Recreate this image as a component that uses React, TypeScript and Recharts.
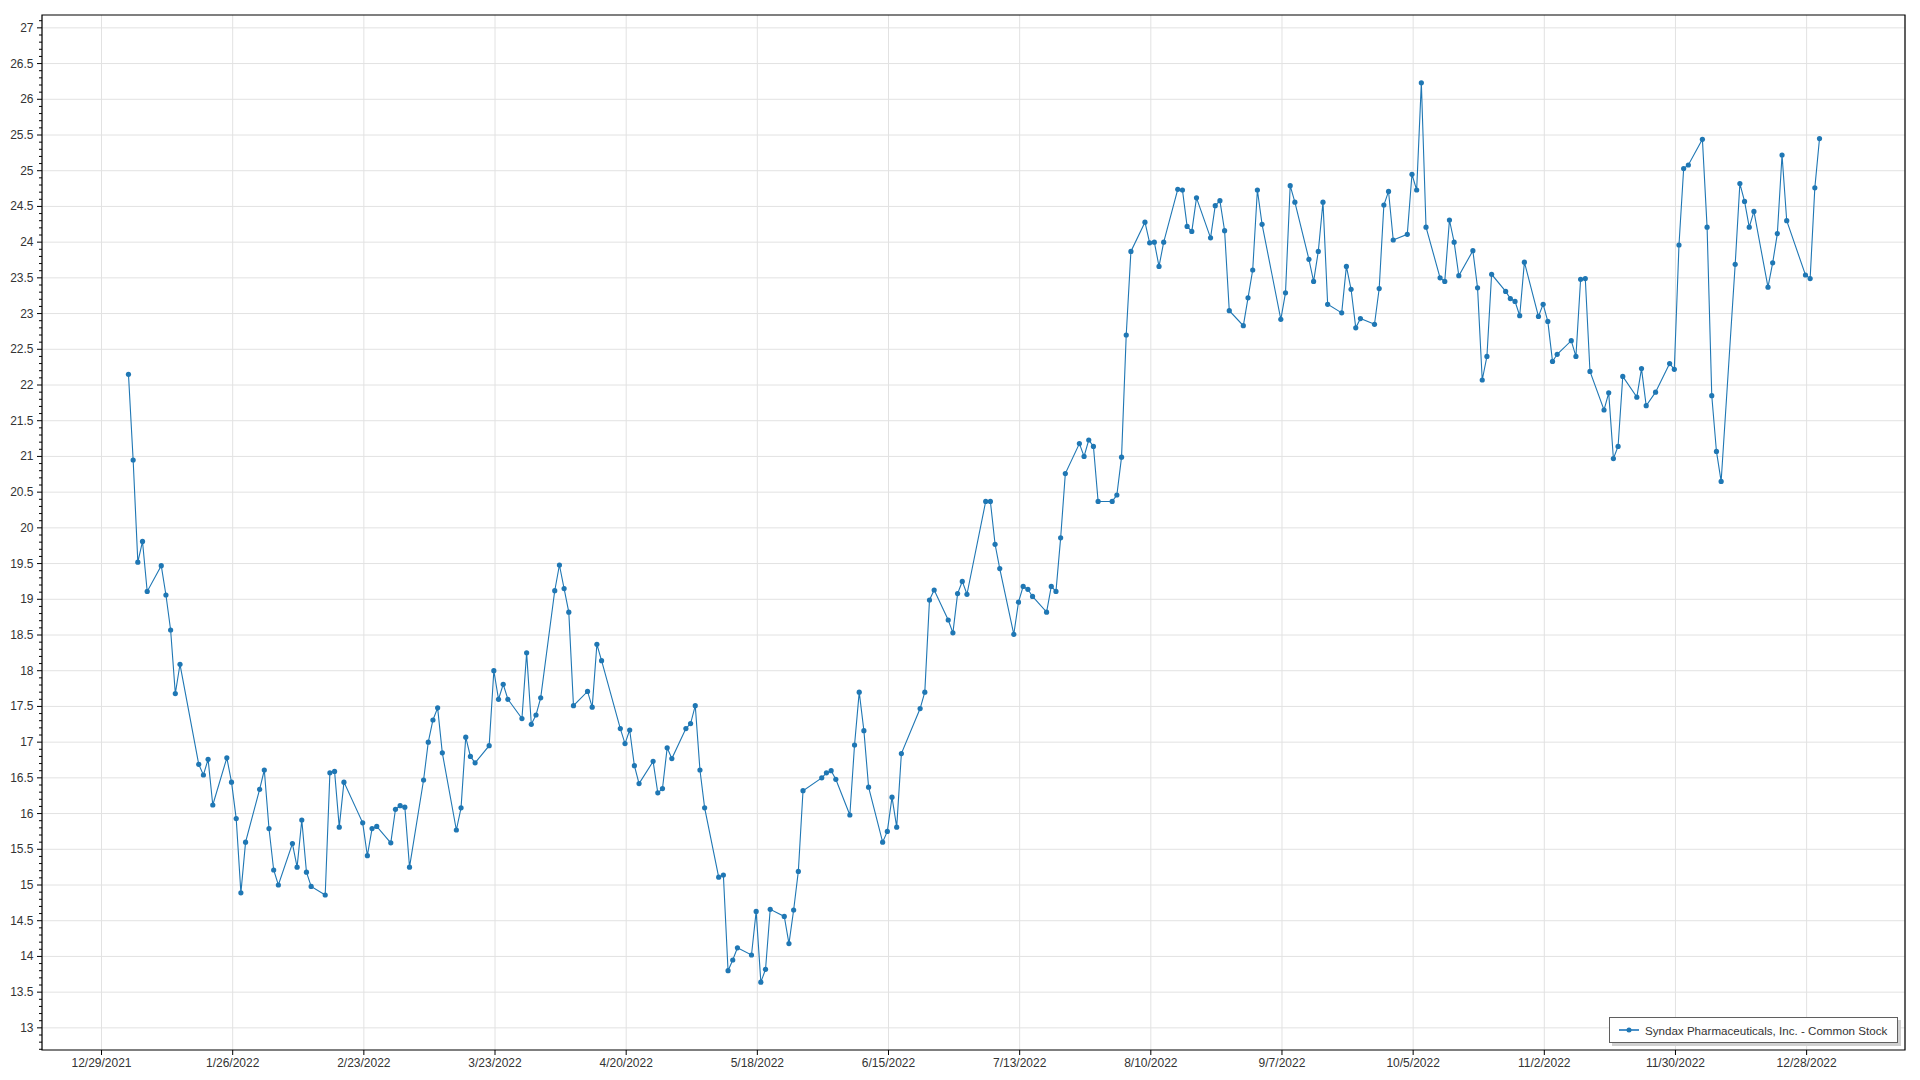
import React from 'react';
import { LineChart, Line, XAxis, YAxis, CartesianGrid, Legend, ReferenceArea } from 'recharts';

// trading days (day of month) and closing prices, 2022
const janDays = [3, 4, 5, 6, 7, 10, 11, 12, 13, 14, 18, 19, 20, 21, 24, 25, 26, 27, 28, 31];
const janClose = [22.15, 20.95, 19.52, 19.81, 19.11, 19.47, 19.06, 18.57, 17.68, 18.09, 16.69, 16.54, 16.76, 16.12, 16.78, 16.44, 15.93, 14.89, 15.6, 16.34];
const febDays = [1, 2, 3, 4, 7, 8, 9, 10, 11, 14, 15, 16, 17, 18, 22, 23, 24, 25, 28];
const febClose = [16.61, 15.79, 15.21, 15.0, 15.58, 15.25, 15.91, 15.18, 14.98, 14.86, 16.57, 16.59, 15.81, 16.44, 15.87, 15.41, 15.79, 15.82, 15.59];
const marDays = [1, 2, 3, 4, 7, 8, 9, 10, 11, 14, 15, 16, 17, 18, 21, 22, 23, 24, 25, 28, 29, 30, 31];
const marClose = [16.06, 16.11, 16.09, 15.25, 16.47, 17.0, 17.31, 17.48, 16.85, 15.77, 16.08, 17.07, 16.8, 16.71, 16.95, 18.0, 17.6, 17.81, 17.6, 17.33, 18.25, 17.25, 17.38];
const aprDays = [1, 4, 5, 6, 7, 8, 11, 12, 13, 14, 18, 19, 20, 21, 22, 25, 26, 27, 28, 29];
const aprClose = [17.62, 19.12, 19.48, 19.15, 18.82, 17.51, 17.71, 17.49, 18.37, 18.14, 17.19, 16.98, 17.17, 16.67, 16.42, 16.73, 16.29, 16.35, 16.92, 16.77];
const mayDays = [2, 3, 4, 5, 6, 9, 10, 11, 12, 13, 16, 17, 18, 19, 20, 23, 24, 25, 26, 27, 31];
const mayClose = [17.19, 17.26, 17.51, 16.61, 16.08, 15.11, 15.14, 13.8, 13.95, 14.12, 14.02, 14.63, 13.64, 13.82, 14.66, 14.56, 14.18, 14.65, 15.19, 16.32, 16.5];
const junDays = [1, 2, 3, 6, 7, 8, 9, 10, 13, 14, 15, 16, 17, 21, 22, 23, 24, 27, 28, 29, 30];
const junClose = [16.57, 16.6, 16.48, 15.98, 16.96, 17.7, 17.16, 16.37, 15.6, 15.75, 16.23, 15.81, 16.84, 17.47, 17.7, 18.99, 19.13, 18.71, 18.53, 19.08, 19.25];
const julDays = [1, 5, 6, 7, 8, 11, 12, 13, 14, 15, 18, 19, 20, 21, 22, 25, 26, 27, 28, 29];
const julClose = [19.07, 20.37, 20.37, 19.77, 19.43, 18.51, 18.96, 19.18, 19.14, 19.04, 18.82, 19.18, 19.11, 19.86, 20.76, 21.18, 21.0, 21.23, 21.14, 20.37];
const augDays = [1, 2, 3, 4, 5, 8, 9, 10, 11, 12, 15, 16, 17, 18, 19, 22, 23, 24, 25, 26, 29, 30, 31];
const augClose = [20.37, 20.46, 20.99, 22.7, 23.87, 24.28, 23.99, 24.0, 23.66, 24.0, 24.74, 24.73, 24.22, 24.15, 24.62, 24.06, 24.51, 24.58, 24.16, 23.04, 22.83, 23.22, 23.61];
const sepDays = [1, 2, 6, 7, 8, 9, 12, 13, 14, 15, 16, 19, 20, 21, 22, 23, 26, 27, 28, 29, 30];
const sepClose = [24.73, 24.25, 22.92, 23.29, 24.79, 24.56, 23.76, 23.45, 23.87, 24.56, 23.13, 23.01, 23.66, 23.34, 22.8, 22.93, 22.85, 23.35, 24.52, 24.71, 24.03];
const octDays = [3, 4, 5, 6, 7, 10, 11, 12, 13, 14, 17, 18, 19, 20, 21, 24, 25, 26, 27, 28, 31];
const octClose = [24.11, 24.95, 24.73, 26.23, 24.21, 23.5, 23.45, 24.31, 24.0, 23.53, 23.88, 23.36, 22.07, 22.4, 23.55, 23.31, 23.21, 23.17, 22.97, 23.72, 22.96];
const novDays = [1, 2, 3, 4, 7, 8, 9, 10, 11, 14, 15, 16, 17, 18, 21, 22, 23, 25, 28, 29, 30];
const novClose = [23.13, 22.89, 22.33, 22.43, 22.62, 22.4, 23.48, 23.49, 22.19, 21.65, 21.89, 20.97, 21.14, 22.12, 21.83, 22.23, 21.71, 21.9, 22.3, 22.22, 23.96];
const decDays = [1, 2, 5, 6, 7, 8, 9, 12, 13, 14, 15, 16, 19, 20, 21, 22, 23, 27, 28, 29, 30];
const decClose = [25.03, 25.08, 25.44, 24.21, 21.85, 21.07, 20.65, 23.69, 24.82, 24.57, 24.21, 24.43, 23.37, 23.71, 24.12, 25.22, 24.3, 23.54, 23.49, 24.76, 25.45];

const xTickLabels = ['12/29/2021', '1/26/2022', '2/23/2022', '3/23/2022', '4/20/2022', '5/18/2022', '6/15/2022', '7/13/2022', '8/10/2022', '9/7/2022', '10/5/2022', '11/2/2022', '11/30/2022', '12/28/2022'];
const yMajorTicks = [13, 13.5, 14, 14.5, 15, 15.5, 16, 16.5, 17, 17.5, 18, 18.5, 19, 19.5, 20, 20.5, 21, 21.5, 22, 22.5, 23, 23.5, 24, 24.5, 25, 25.5, 26, 26.5, 27];
const seriesName = 'Syndax Pharmaceuticals, Inc. - Common Stock';

const monthDays = [janDays, febDays, marDays, aprDays, mayDays, junDays, julDays, augDays, sepDays, octDays, novDays, decDays];
const monthClose = [janClose, febClose, marClose, aprClose, mayClose, junClose, julClose, augClose, sepClose, octClose, novClose, decClose];

const data = monthDays.flatMap((days, m) =>
  days.map((d, i) => ({ t: Date.UTC(2022, m, d, 18), close: monthClose[m][i] }))
);

const parseDate = (s: string) => {
  const [m, d, y] = s.split('/').map(Number);
  return Date.UTC(y, m - 1, d);
};
const xTicks = xTickLabels.map(parseDate);

const xMin = Date.UTC(2021, 11, 16, 7);
const xMax = Date.UTC(2023, 0, 18, 0);
const yMin = 12.69;
const yMax = 27.18;

// minor ticks every 0.1 on the value axis
const yAllTicks: number[] = [];
for (let i = 127; i <= 271; i++) yAllTicks.push(i / 10);

const BLUE = '#1f77b4';

const YTick = (props: any) => {
  const { x, y, payload } = props;
  const v = payload.value;
  const major = yMajorTicks.some((m) => Math.abs(m - v) < 1e-6);
  return (
    <g>
      <line x1={x - (major ? 5 : 3)} x2={x} y1={y} y2={y} stroke="#000" strokeWidth={1} />
      {major && (
        <text x={x - 8.5} y={y} textAnchor="end" dominantBaseline="central" fill="#333" fontSize={12}>
          {String(v)}
        </text>
      )}
    </g>
  );
};

const LegendBox = () => (
  <div
    style={{
      width: 289,
      height: 26,
      boxSizing: 'border-box',
      border: '1.5px solid #5f5f5f',
      boxShadow: '3px 3px 0 #d0d0d0',
      background: '#fff',
      display: 'flex',
      alignItems: 'center',
      paddingLeft: 9,
      fontSize: 11.6,
      color: '#333',
      whiteSpace: 'nowrap',
    }}
  >
    <svg width={20} height={10} style={{ marginRight: 6 }}>
      <line x1={0} x2={20} y1={5} y2={5} stroke="#4a90c8" strokeWidth={2} />
      <circle cx={10} cy={5} r={2.5} fill={BLUE} />
    </svg>
    <span>{seriesName}</span>
  </div>
);

export default function App() {
  return (
    <div
      style={{
        position: 'absolute',
        left: 0,
        top: 0,
        width: 1920,
        height: 1080,
        background: '#fff',
        fontFamily: "'Segoe UI', 'Liberation Sans', Arial, sans-serif",
      }}
    >
      <LineChart width={1920} height={1080} data={data} margin={{ top: 15, right: 15, bottom: 0, left: 0 }}>
        <CartesianGrid stroke="#e2e2e2" horizontalValues={yMajorTicks} />
        <XAxis
          dataKey="t"
          type="number"
          domain={[xMin, xMax]}
          allowDataOverflow
          ticks={xTicks}
          interval={0}
          tickFormatter={(v: number) => xTickLabels[xTicks.indexOf(v)] ?? ''}
          height={30}
          tickSize={5}
          tickMargin={3}
          axisLine={false}
          tickLine={{ stroke: '#000' }}
          tick={{ fill: '#333', fontSize: 12 }}
        />
        <YAxis
          type="number"
          domain={[yMin, yMax]}
          allowDataOverflow
          ticks={yAllTicks}
          interval={0}
          width={42}
          tickSize={0}
          tickMargin={0}
          axisLine={false}
          tickLine={false}
          tick={<YTick />}
        />
        <ReferenceArea x1={xMin} x2={xMax} y1={yMin} y2={yMax} fill="none" stroke="#000" strokeWidth={1.2} ifOverflow="visible" />
        <Line
          type="linear"
          dataKey="close"
          name={seriesName}
          stroke={BLUE}
          strokeWidth={1.1}
          dot={{ r: 2.6, fill: BLUE, stroke: BLUE, strokeWidth: 0 }}
          activeDot={false}
          isAnimationActive={false}
        />
        <Legend
          layout="horizontal"
          verticalAlign="middle"
          align="center"
          wrapperStyle={{ left: 1609, top: 1017, width: 289, height: 26 }}
          content={() => <LegendBox />}
        />
      </LineChart>
    </div>
  );
}
